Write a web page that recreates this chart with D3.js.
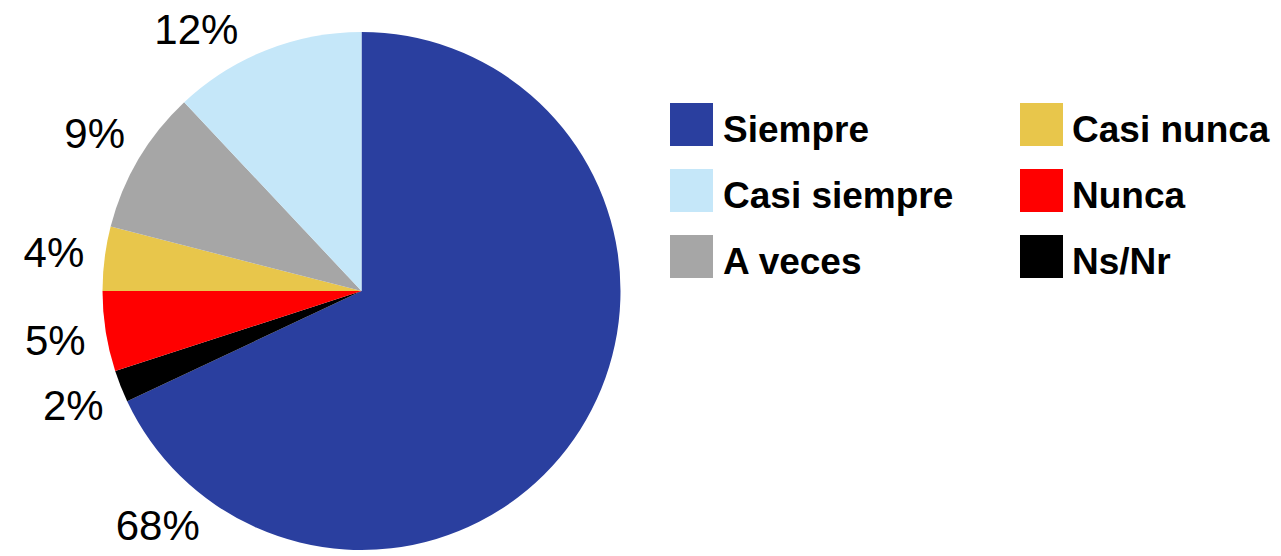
<!DOCTYPE html>
<html>
<head>
<meta charset="utf-8">
<script src="https://cdn.jsdelivr.net/npm/d3@7"></script>
<style>
  html, body { margin: 0; padding: 0; background: #ffffff; }
  svg { display: block; }
</style>
</head>
<body>
<svg id="chart" width="1281" height="556"></svg>
<script>
// ---- data ----
const categories = ["Siempre", "Casi siempre", "A veces", "Casi nunca", "Nunca", "Ns/Nr"];
const values = [68, 12, 9, 4, 5, 2];
const percentLabels = ["68%", "12%", "9%", "4%", "5%", "2%"];
// order in which slices are laid out clockwise from 12 o'clock
const sliceOrder = ["Siempre", "Ns/Nr", "Nunca", "Casi nunca", "A veces", "Casi siempre"];

// ---- styles / layout ----
const colors = {
  "Siempre": "#2A3F9F",
  "Casi siempre": "#C5E7F9",
  "A veces": "#A6A6A6",
  "Casi nunca": "#E8C64B",
  "Nunca": "#FF0000",
  "Ns/Nr": "#000000"
};
// label angle adjustments (degrees) for labels placed away from the slice middle
const labelAngleShift = { "Siempre": 98.7, "Casi siempre": -10.6 };

const cx = 361.5, cy = 291, R = 259, labelR = 310;
const labelFont = 42;

const svg = d3.select("#chart");
const rows = sliceOrder.map(c => {
  const i = categories.indexOf(c);
  return { cat: c, value: values[i], label: percentLabels[i] };
});

const pie = d3.pie().sort(null).value(d => d.value).startAngle(0).endAngle(2 * Math.PI);
const arcs = pie(rows);
const arc = d3.arc().innerRadius(0).outerRadius(R);

const g = svg.append("g").attr("transform", `translate(${cx},${cy})`);
g.selectAll("path.slice")
  .data(arcs)
  .enter().append("path")
  .attr("class", "slice")
  .attr("d", arc)
  .attr("fill", d => colors[d.data.cat]);

// labels
g.selectAll("text.pct")
  .data(arcs)
  .enter().append("text")
  .attr("class", "pct")
  .each(function(d) {
    const mid = (d.startAngle + d.endAngle) / 2 + (labelAngleShift[d.data.cat] || 0) * Math.PI / 180;
    const x = labelR * Math.sin(mid);
    const y = -labelR * Math.cos(mid);
    d3.select(this)
      .attr("x", x)
      .attr("y", y + labelFont * 0.358);
  })
  .attr("text-anchor", "middle")
  .attr("font-family", "Liberation Sans, Arial, sans-serif")
  .attr("font-size", labelFont)
  .attr("fill", "#000")
  .text(d => d.data.label);

// legend
const legendCols = [670, 1020];
const legendTop = 103, rowStep = 66, box = 43;
const legend = svg.append("g");
categories.forEach((c, i) => {
  const col = Math.floor(i / 3), row = i % 3;
  const x = legendCols[col], y = legendTop + row * rowStep;
  legend.append("rect")
    .attr("x", x).attr("y", y)
    .attr("width", box).attr("height", box)
    .attr("fill", colors[c]);
  legend.append("text")
    .attr("x", x + box + (col === 0 ? 10 : 9))
    .attr("y", y + 38.5)
    .attr("font-family", "Liberation Sans, Arial, sans-serif")
    .attr("font-weight", "bold")
    .attr("font-size", 37)
    .attr("fill", "#000")
    .text(c);
});
</script>
</body>
</html>
